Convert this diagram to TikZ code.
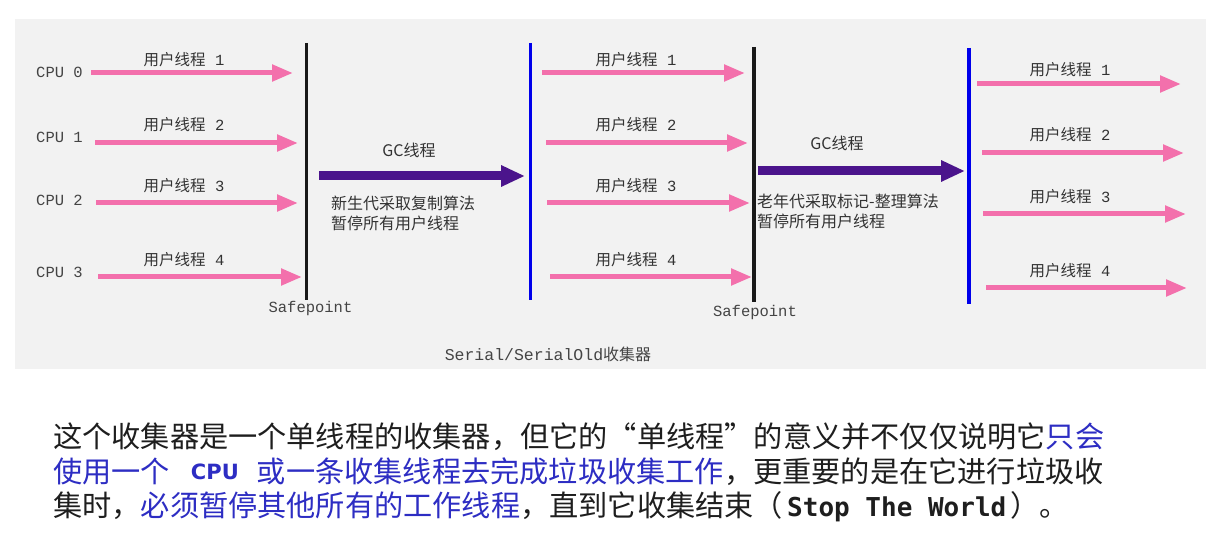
\documentclass[tikz,border=0pt]{standalone}
\usepackage{fontspec}
\setmainfont{Noto Sans CJK SC}
\setmonofont{Liberation Mono}
\newfontfamily\dvs{DejaVu Sans}
\newfontfamily\dvm{DejaVu Sans Mono}
\usetikzlibrary{arrows.meta}
\definecolor{bg}{HTML}{F2F2F2}
\definecolor{pinkarr}{RGB}{243,112,172}
\definecolor{gcpurple}{RGB}{75,20,140}
\definecolor{safeblue}{RGB}{0,0,235}
\definecolor{lbl}{HTML}{333333}
\definecolor{monogray}{HTML}{444444}
\definecolor{txtblue}{RGB}{45,45,195}
\definecolor{txtblack}{HTML}{1E1E1E}
\begin{document}
\begin{tikzpicture}[x=1pt,y=-1pt,
  thread/.style={line width=5pt,draw=pinkarr,-{Triangle[length=21pt,width=16pt]}},
  gcarrow/.style={line width=9pt,draw=gcpurple,-{Triangle[length=24pt,width=20pt]}},
  safeline/.style={line width=3.2pt,draw=black!90},
  resumeline/.style={line width=3.2pt,draw=safeblue},
  thlabel/.style={inner sep=0pt,text=lbl,font=\fontsize{15.5}{18}\selectfont},
  monolabel/.style={inner sep=0pt,text=monogray,font=\fontsize{15.5}{18}\selectfont\ttfamily},
  gctext/.style={inner sep=0pt,text=lbl,font=\fontsize{16}{20}\selectfont,anchor=west},
  body/.style={inner sep=0pt,anchor=west,text=txtblack,font=\fontsize{29.2}{34}\selectfont}
]
\useasboundingbox (0,0) rectangle (1211,537);
\fill[white] (0,0) rectangle (1211,537);
\fill[bg] (15,19) rectangle (1206,369);

% CPU labels
\foreach \i/\y in {0/72,1/137,2/200,3/272}{
  \node[monolabel] (cpu\i) at (59.5,\y) {CPU \i};
}

% group 1 threads
\foreach \i/\xs/\xe/\y/\ly in {1/91/293/73/60, 2/95/298/143/125, 3/96/298/203/186, 4/98/302/277/260}{
  \coordinate (a\i s) at (\xs,\y);
  \coordinate (a\i e) at (\xe,\y);
  \draw[thread] (a\i s) -- (a\i e);
  \node[thlabel] (la\i) at (184,\ly) {用户线程\texttt{ \i}};
}
% safepoint 1
\coordinate (sp1t) at (306.5,43);
\coordinate (sp1b) at (306.5,300);
\draw[safeline] (sp1t) -- (sp1b);
\node[monolabel] (sp1lbl) at (310.5,308) {Safepoint};

% GC 1
\coordinate (gc1s) at (319,176);
\coordinate (gc1e) at (525,176);
\draw[gcarrow] (gc1s) -- (gc1e);
\node[thlabel,font=\fontsize{16}{18}\selectfont] (gc1lbl) at (409,150) {GC线程};
\node[gctext] (gc1t1) at (331,203) {新生代采取复制算法};
\node[gctext] (gc1t2) at (331,223.5) {暂停所有用户线程};

% resume 1
\coordinate (rs1t) at (530.5,43);
\coordinate (rs1b) at (530.5,300);
\draw[resumeline] (rs1t) -- (rs1b);

% group 2 threads
\foreach \i/\xs/\xe/\y/\ly in {1/542/745/73/60, 2/546/748/143/125, 3/547/750/203/186, 4/550/752/277/260}{
  \coordinate (b\i s) at (\xs,\y);
  \coordinate (b\i e) at (\xe,\y);
  \draw[thread] (b\i s) -- (b\i e);
  \node[thlabel] (lb\i) at (636,\ly) {用户线程\texttt{ \i}};
}
% safepoint 2
\coordinate (sp2t) at (754,47);
\coordinate (sp2b) at (754,302);
\draw[safeline] (sp2t) -- (sp2b);
\node[monolabel] (sp2lbl) at (755,312) {Safepoint};

% GC 2
\coordinate (gc2s) at (758,171);
\coordinate (gc2e) at (965,171);
\draw[gcarrow] (gc2s) -- (gc2e);
\node[thlabel,font=\fontsize{16}{18}\selectfont] (gc2lbl) at (837,143) {GC线程};
\node[gctext] (gc2t1) at (757,201.5) {老年代采取标记-整理算法};
\node[gctext] (gc2t2) at (757,221) {暂停所有用户线程};

% resume 2
\coordinate (rs2t) at (969,48);
\coordinate (rs2b) at (969,304);
\draw[resumeline] (rs2t) -- (rs2b);

% group 3 threads
\foreach \i/\xs/\xe/\y/\ly in {1/977/1181/84/70, 2/982/1184/153/135, 3/983/1186/214/197, 4/986/1187/288/271}{
  \coordinate (c\i s) at (\xs,\y);
  \coordinate (c\i e) at (\xe,\y);
  \draw[thread] (c\i s) -- (c\i e);
  \node[thlabel] (lc\i) at (1070,\ly) {用户线程\texttt{ \i}};
}

% caption
\node[thlabel,text=monogray,font=\fontsize{16}{18}\selectfont] (cap) at (548,354) {{\ttfamily\fontsize{16.5}{18}\selectfont Serial/SerialOld}收集器};

% body text
\node[body] (l1) at (53,437) {这个收集器是一个单线程的收集器，但它的“单线程”的意义并不仅仅说明它{\color{txtblue}只会}};
\node[body] (l2) at (53,471.5) {{\color{txtblue}使用一个\hspace{21pt}\raisebox{3pt}{\dvs\bfseries\fontsize{21}{24}\selectfont CPU}\hspace{18pt}或一条收集线程去完成垃圾收集工作}，更重要的是在它进行垃圾收};
\node[body] (l3) at (53,507) {集时，{\color{txtblue}必须暂停其他所有的工作线程}，直到它收集结束（\hspace{4pt}{\dvm\bfseries\fontsize{26}{30}\selectfont Stop The World}\hspace{4pt}）。};
\end{tikzpicture}
\end{document}
